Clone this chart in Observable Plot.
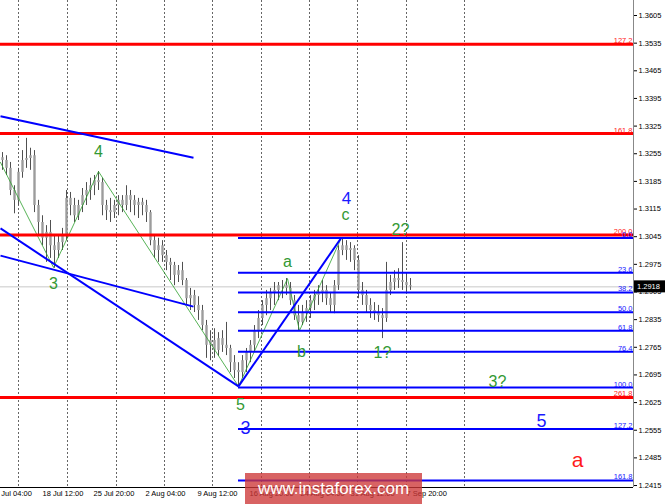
<!DOCTYPE html>
<html><head><meta charset="utf-8">
<script src="https://cdn.jsdelivr.net/npm/d3@7"></script>
<script src="https://cdn.jsdelivr.net/npm/@observablehq/plot@0.6"></script>
<style>
body{margin:0;background:#fff;}
#wrap{position:relative;width:665px;height:504px;overflow:hidden;background:#fff;}
#wm{position:absolute;left:245px;top:473px;width:177px;height:31px;background:rgba(205,55,55,0.78);color:#fff;font:17px "Liberation Sans",Arial,sans-serif;text-align:center;line-height:31px;}
</style></head><body><div id="wrap"></div>
<script>
// ---- candle data (H4 bars, index order) ----
const firstOpen = 1.3245;
const high = [1.3258,1.3250,1.3233,1.3174,1.3218,1.3263,1.3294,1.3269,1.3263,1.3137,
1.3098,1.3073,1.3086,1.3048,1.3048,1.3066,1.3162,1.3157,1.3142,1.3137,
1.3167,1.3182,1.3193,1.3200,1.3210,1.3193,1.3137,1.3142,1.3137,1.3149,
1.3149,1.3174,1.3162,1.3149,1.3142,1.3142,1.3137,1.3111,1.3046,1.3041,
1.3035,1.3010,1.2990,1.2980,1.2972,1.2980,1.2939,1.2914,1.2909,1.2893,
1.2871,1.2833,1.2807,1.2812,1.2802,1.2807,1.2828,1.2770,1.2744,1.2726,
1.2744,1.2762,1.2782,1.2820,1.2858,1.2883,1.2909,1.2914,1.2929,1.2929,
1.2934,1.2939,1.2929,1.2896,1.2871,1.2871,1.2883,1.2896,1.2909,1.2921,
1.2934,1.2921,1.2904,1.2934,1.3022,1.3043,1.3035,1.3030,1.3022,1.2997,
1.2929,1.2909,1.2888,1.2878,1.2871,1.2863,1.2980,1.2947,1.2959,1.2964,
1.3030,1.2954,1.2939];
const low = [1.3213,1.3200,1.3149,1.3103,1.3124,1.3193,1.3218,1.3213,1.3106,1.3048,
1.3022,1.2980,1.2990,1.2965,1.2990,1.3010,1.3035,1.3098,1.3081,1.3086,
1.3106,1.3124,1.3137,1.3149,1.3162,1.3098,1.3086,1.3081,1.3091,1.3098,
1.3106,1.3111,1.3106,1.3098,1.3091,1.3098,1.3081,1.3022,1.2990,1.2980,
1.2980,1.2959,1.2934,1.2921,1.2929,1.2921,1.2871,1.2858,1.2853,1.2833,
1.2807,1.2737,1.2731,1.2737,1.2742,1.2752,1.2744,1.2701,1.2686,1.2666,
1.2686,1.2701,1.2726,1.2752,1.2787,1.2820,1.2845,1.2858,1.2871,1.2883,
1.2888,1.2896,1.2871,1.2833,1.2807,1.2820,1.2828,1.2838,1.2858,1.2871,
1.2878,1.2871,1.2853,1.2850,1.2909,1.2997,1.2985,1.2980,1.2959,1.2888,
1.2871,1.2853,1.2838,1.2833,1.2828,1.2787,1.2828,1.2896,1.2909,1.2914,
1.2909,1.2904,1.2909];
const close = [1.3238,1.3218,1.3162,1.3137,1.3208,1.3238,1.3243,1.3250,1.3124,1.3081,
1.3041,1.3056,1.3022,1.3010,1.3030,1.3048,1.3142,1.3124,1.3098,1.3124,
1.3149,1.3162,1.3174,1.3187,1.3182,1.3124,1.3111,1.3106,1.3124,1.3137,
1.3124,1.3149,1.3137,1.3124,1.3132,1.3124,1.3106,1.3035,1.3010,1.3022,
1.2997,1.2980,1.2972,1.2947,1.2959,1.2934,1.2888,1.2896,1.2871,1.2858,
1.2820,1.2770,1.2782,1.2757,1.2787,1.2770,1.2762,1.2726,1.2706,1.2701,
1.2731,1.2752,1.2770,1.2807,1.2838,1.2871,1.2888,1.2904,1.2909,1.2921,
1.2921,1.2914,1.2883,1.2845,1.2828,1.2853,1.2863,1.2883,1.2896,1.2904,
1.2909,1.2888,1.2871,1.2921,1.3010,1.3022,1.3010,1.3015,1.2985,1.2909,
1.2896,1.2871,1.2858,1.2853,1.2845,1.2838,1.2909,1.2929,1.2939,1.2934,
1.2929,1.2921,1.2918];
const lastPrice = 1.2918;

// ---- axes ----
const yTicks = [1.3605,1.3535,1.3465,1.3395,1.3325,1.3255,1.3185,1.3115,1.3045,
1.2975,1.2905,1.2835,1.2765,1.2695,1.2625,1.2555,1.2485,1.2415];
const timeLabels = ["11 Jul 04:00","18 Jul 12:00","25 Jul 20:00","2 Aug 04:00","9 Aug 12:00",
"16 Aug 20:00","24 Aug 04:00","31 Aug 12:00","7 Sep 20:00"];
const timeIdx = [-2.75,10,22.75,35.75,48.75,61.75,74.5,87,101];
const gridIdx = [4,16.25,28.5,40.5,52.5,64.75,76.75,88.75,101,115.5];

// ---- levels ----
const redNames = ["127.2","161.8","200.0","261.8"];
const redValues = [1.3532,1.3306,1.3049,1.2638];
const fibNames = ["0.0","23.6","38.2","50.0","61.8","76.4","100.0","127.2","161.8"];
const fibValues = [1.3042,1.2954,1.2904,1.2854,1.2807,1.2754,1.2663,1.2558,1.2428];
const fibStart = 59;

// ---- trend lines [i1, v1, i2, v2] ----
const blueLines = [[-0.5,1.3350,47.75,1.3245],[-0.5,1.3066,59,1.2666],
[-0.5,1.2997,47.75,1.2868],[59,1.2666,84.75,1.3043]];
const zigIdx = [-0.5,12.75,24,59,71.25,74.25,84.75];
const zigVal = [1.3233,1.2967,1.3210,1.2666,1.2939,1.2807,1.3043];

// ---- wave labels ----
const waveText  = ["4","3","4","c","a","b","2?","1?","3?","5","a","5","3"];
const waveIdx   = [24,12.75,86,85.75,71.25,74.75,99.5,95,123.75,134.75,143.75,59.5,60.75];
const waveVal   = [1.3261,1.2926,1.3142,1.3099,1.2982,1.2754,1.3061,1.2752,1.2678,1.2577,1.2478,1.2618,1.2559];
const waveColor = ["#339933","#339933","#1a1aff","#339933","#339933","#339933","#339933","#339933","#339933","#1a1aff","#ff1a1a","#339933","#1a1aff"];
const waveSize  = [16,16,17,16,16,16,16,16,16,18,21,16,18];

const xMin = -0.5, xMax = 157.75, yMin = 1.2410, yMax = 1.3643;
const FONT = "Liberation Sans, Arial, sans-serif";

const candles = close.map((c, i) => ({i, o: i ? close[i-1] : firstOpen, h: high[i], l: low[i], c}));
const reds = redValues.map((v, k) => ({v, name: redNames[k]}));
const fibs = fibValues.map((v, k) => ({v, name: fibNames[k], x1: fibStart, x2: xMax}));
const links = blueLines.map(([a,b,c,d]) => ({a,b,c,d}));
const zig = zigIdx.map((i, k) => ({i, v: zigVal[k]}));
const waves = waveText.map((t, k) => ({t, i: waveIdx[k], v: waveVal[k], col: waveColor[k], s: waveSize[k]}));

const priceBox = (index, scales, values, dims) => {
  const g = d3.create("svg:g");
  const yy = scales.y(lastPrice);
  const x0 = dims.width - dims.marginRight + 1;
  g.append("rect").attr("x", x0).attr("y", yy - 6).attr("width", dims.marginRight).attr("height", 12).attr("fill", "#000");
  g.append("text").attr("x", x0 + 3).attr("y", yy).attr("dy", "0.34em").attr("fill", "#fff")
    .attr("text-anchor", "start").attr("font-size", 7.5).attr("font-family", FONT).text(lastPrice.toFixed(4));
  return g.node();
};

const chart = Plot.plot({
  width: 665, height: 504,
  marginLeft: 0, marginRight: 32, marginTop: 0, marginBottom: 17,
  style: {fontFamily: FONT, fontSize: "7.5px", background: "#fff", color: "#000"},
  x: {domain: [xMin, xMax], axis: null},
  y: {domain: [yMin, yMax], axis: null},
  marks: [
    Plot.ruleX(gridIdx, {stroke: "#666", strokeDasharray: "2,2", strokeWidth: 1}),
    Plot.ruleY([lastPrice], {stroke: "#c8c8c8", strokeWidth: 1}),
    Plot.ruleX(candles, {x: "i", y1: d => Math.min(d.l, d.o, d.c), y2: d => Math.max(d.h, d.o, d.c), stroke: "#505050", strokeWidth: 1}),
    Plot.ruleX(candles, {x: "i", y1: "o", y2: "c", stroke: "#9c9c9c", strokeWidth: 2.4}),
    Plot.line(zig, {x: "i", y: "v", stroke: "#2ca02c", strokeWidth: 0.8}),
    Plot.ruleY(reds, {y: "v", stroke: "#ff0000", strokeWidth: 3}),
    Plot.ruleY(fibs, {y: "v", x1: "x1", x2: "x2", stroke: "#0000ff", strokeWidth: 2}),
    Plot.link(links, {x1: "a", y1: "b", x2: "c", y2: "d", stroke: "#0000ff", strokeWidth: 2}),
    Plot.text(reds, {y: "v", frameAnchor: "right", text: "name", textAnchor: "end", lineAnchor: "bottom", dx: -1, dy: -1, fill: "#ff2020", fontSize: 7.5}),
    Plot.text(fibs, {y: "v", frameAnchor: "right", text: "name", textAnchor: "end", lineAnchor: "bottom", dx: -1, dy: -1, fill: "#2020ff", fontSize: 7.5}),
    Plot.text(waves, {x: "i", y: "v", text: "t", fill: "col", fontSize: "s", lineAnchor: "middle", fontFamily: FONT}),
    Plot.ruleX([xMax], {stroke: "#888"}),
    Plot.ruleY([yMin], {stroke: "#000"}),
    Plot.axisY({anchor: "right", ticks: yTicks, tickFormat: d => d.toFixed(4), tickSize: 3, tickPadding: 2, fontSize: 7.5}),
    Plot.axisX({anchor: "bottom", ticks: timeIdx, tickFormat: d => timeLabels[timeIdx.indexOf(d)], textAnchor: "start", tickSize: 0, tickPadding: 3, fontSize: 7.5}),
    priceBox
  ]
});
const wrap = document.getElementById("wrap");
wrap.appendChild(chart);
const wm = document.createElement("div");
wm.id = "wm";
wm.textContent = "www.instaforex.com";
wrap.appendChild(wm);
</script>
</body></html>
